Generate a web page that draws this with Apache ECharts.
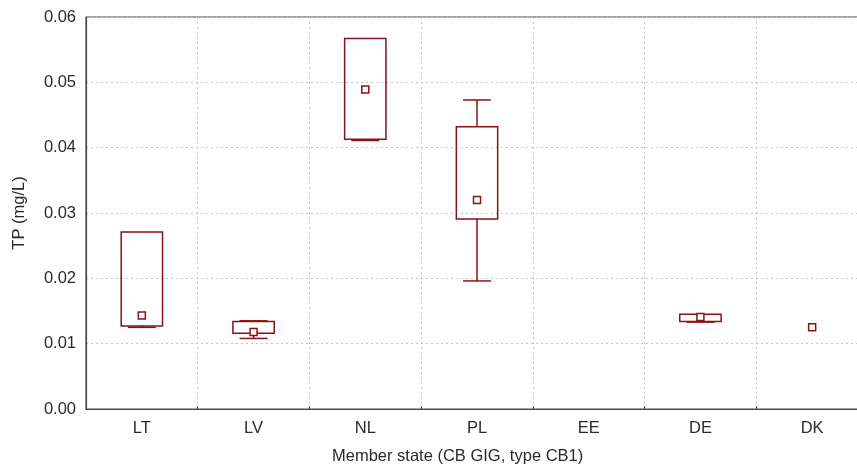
<!DOCTYPE html>
<html>
<head>
<meta charset="utf-8">
<script src="https://cdn.jsdelivr.net/npm/echarts@6/dist/echarts.min.js"></script>
<style>
  html, body { margin: 0; padding: 0; background: #fff; overflow: hidden; }
  /* plot frame runs slightly past the right edge of the window */
  #chart { width: 870px; height: 470px; }
</style>
</head>
<body>
<div id="chart"></div>
<script>
// TP concentrations per member state: min, 25%, median, 75%, max
const categories = ['LT', 'LV', 'NL', 'PL', 'EE', 'DE', 'DK'];
const minValues    = [0.0125, 0.0108, 0.0411, 0.0196, null, 0.0133, null];
const q1Values     = [0.0127, 0.0116, 0.0413, 0.0291, null, 0.0134, null];
const medianValues = [0.0143, 0.0118, 0.0489, 0.0320, null, 0.0141, 0.0125];
const q3Values     = [0.0271, 0.0134, 0.0567, 0.0432, null, 0.0145, null];
const maxValues    = [0.0271, 0.0135, 0.0567, 0.0473, null, 0.0145, null];
const yTicks = { min: 0, max: 0.06, step: 0.01 };

const boxData = categories.map((c, i) => [i, minValues[i], q1Values[i], medianValues[i], q3Values[i], maxValues[i]]);

const RED = '#8a1212';
const FONT = 'Liberation Sans, Arial, sans-serif';
const TEXT = '#2a2a2a';

function renderBox(params, api) {
  const idx = api.value(0);
  const vals = [api.value(1), api.value(2), api.value(3), api.value(4), api.value(5)];
  const bandW = api.size([1, 0])[0];
  const boxW = bandW * 0.37;
  const capW = bandW * 0.25;
  const sq = 7;
  const children = [];
  const lineStyle = { stroke: RED, lineWidth: 1.5, fill: null };
  const [vMin, vQ1, vMed, vQ3, vMax] = vals;
  const has = v => v !== null && v !== undefined && !isNaN(v);
  const x = api.coord([idx, 0])[0];
  if (has(vQ1) && has(vQ3)) {
    const yQ1 = api.coord([idx, vQ1])[1];
    const yQ3 = api.coord([idx, vQ3])[1];
    if (has(vMax) && vMax > vQ3) {
      const yMax = api.coord([idx, vMax])[1];
      children.push({ type: 'line', shape: { x1: x, y1: yQ3, x2: x, y2: yMax }, style: lineStyle });
      children.push({ type: 'line', shape: { x1: x - capW / 2, y1: yMax, x2: x + capW / 2, y2: yMax }, style: lineStyle });
    }
    if (has(vMin) && vMin < vQ1) {
      const yMin = api.coord([idx, vMin])[1];
      children.push({ type: 'line', shape: { x1: x, y1: yQ1, x2: x, y2: yMin }, style: lineStyle });
      children.push({ type: 'line', shape: { x1: x - capW / 2, y1: yMin, x2: x + capW / 2, y2: yMin }, style: lineStyle });
    }
    children.push({
      type: 'rect',
      shape: { x: x - boxW / 2, y: yQ3, width: boxW, height: yQ1 - yQ3 },
      style: { stroke: RED, lineWidth: 1.5, fill: 'rgba(255,255,255,0)' }
    });
  }
  if (has(vMed)) {
    const yMed = api.coord([idx, vMed])[1];
    children.push({
      type: 'rect',
      shape: { x: x - sq / 2, y: yMed - sq / 2, width: sq, height: sq },
      style: { stroke: RED, lineWidth: 1.5, fill: '#fff' }
    });
  }
  return { type: 'group', children };
}

const chart = echarts.init(document.getElementById('chart'), null, { renderer: 'canvas' });
chart.setOption({
  animation: false,
  backgroundColor: '#fff',
  grid: {
    left: 86, top: 17, bottom: 61, right: 2,
    show: true, borderColor: '#4a4a4a', borderWidth: 1.2, backgroundColor: '#fff'
  },
  xAxis: {
    type: 'category',
    data: categories,
    boundaryGap: true,
    axisLine: { show: true, lineStyle: { color: '#4a4a4a', width: 1.2 } },
    axisTick: { show: true, inside: true, length: 3, lineStyle: { color: '#4a4a4a' } },
    axisLabel: { color: TEXT, fontFamily: FONT, fontSize: 16.5, margin: 11 },
    splitLine: { show: true, lineStyle: { color: '#c4c4c4', type: [2, 3], width: 1 } }
  },
  yAxis: {
    type: 'value',
    min: yTicks.min, max: yTicks.max, interval: yTicks.step,
    name: 'TP (mg/L)',
    nameLocation: 'middle',
    nameGap: 58,
    nameRotate: 90,
    nameTextStyle: { color: TEXT, fontFamily: FONT, fontSize: 16.5 },
    axisLine: { show: true, lineStyle: { color: '#4a4a4a', width: 1.2 } },
    axisTick: { show: false },
    axisLabel: { color: TEXT, fontFamily: FONT, fontSize: 16.5, margin: 10, formatter: v => v.toFixed(2) },
    splitLine: { show: true, lineStyle: { color: '#c4c4c4', type: [2, 3], width: 1 } }
  },
  graphic: [{
    type: 'text',
    left: 332, top: 448,
    style: { text: 'Member state (CB GIG, type CB1)', fill: TEXT, font: '16.5px ' + FONT }
  }],
  series: [{
    type: 'custom',
    renderItem: renderBox,
    encode: { x: 0, y: [1, 2, 3, 4, 5] },
    data: boxData,
    z: 10
  }]
});
</script>
</body>
</html>
